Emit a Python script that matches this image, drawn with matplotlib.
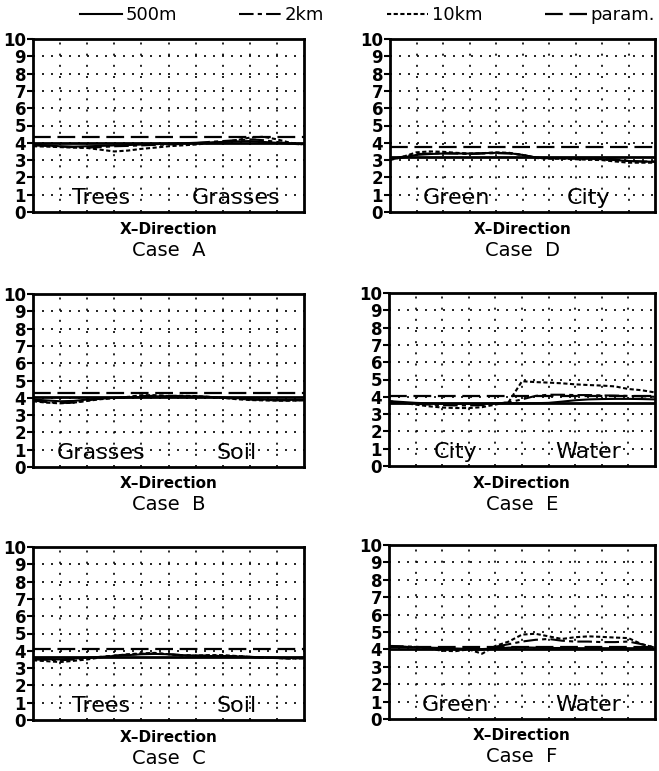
import matplotlib
matplotlib.use("Agg")
import matplotlib.pyplot as plt
from matplotlib.lines import Line2D

# horizontal positions along the x-direction transect
x = [0, 0.5, 1, 1.5, 2, 2.5, 3, 3.5, 4, 4.5, 5,
     5.5, 6, 6.5, 7, 7.5, 8, 8.5, 9, 9.5, 10]

yticks = [0, 1, 2, 3, 4, 5, 6, 7, 8, 9, 10]

# Case A: Trees | Grasses
A_base, A_param = 4.0, 4.35
A_500m = [3.9, 3.85, 3.8, 3.78, 3.8, 3.82, 3.85, 3.87, 3.9, 3.92, 3.95,
          3.97, 4.0, 4.02, 4.05, 4.08, 4.1, 4.05, 4.0, 3.95, 3.92]
A_2km = [3.85, 3.82, 3.78, 3.75, 3.72, 3.75, 3.8, 3.82, 3.85, 3.88, 3.9,
         3.93, 3.98, 4.05, 4.1, 4.15, 4.2, 4.15, 4.05, 3.95, 3.9]
A_10km = [3.8, 3.78, 3.75, 3.72, 3.7, 3.6, 3.5, 3.55, 3.65, 3.72, 3.8,
          3.85, 3.9, 3.98, 4.05, 4.15, 4.3, 4.35, 4.2, 4.0, 3.9]

# Case B: Grasses | Soil
B_base, B_param = 4.05, 4.3
B_500m = [3.9, 3.85, 3.8, 3.82, 3.9, 3.95, 4.0, 4.02, 4.05, 4.08, 4.1,
          4.1, 4.08, 4.05, 4.02, 3.98, 3.92, 3.9, 3.88, 3.88, 3.88]
B_2km = [3.85, 3.75, 3.7, 3.72, 3.85, 3.95, 4.0, 4.05, 4.1, 4.12, 4.12,
         4.1, 4.08, 4.05, 4.0, 3.95, 3.9, 3.88, 3.85, 3.85, 3.85]
B_10km = [3.8, 3.72, 3.68, 3.72, 3.82, 3.92, 3.98, 4.05, 4.15, 4.15, 4.1,
          4.12, 4.1, 4.05, 4.0, 3.92, 3.87, 3.85, 3.83, 3.83, 3.85]

# Case C: Trees | Soil
C_base, C_param = 3.65, 4.08
C_500m = [3.55, 3.52, 3.5, 3.55, 3.6, 3.65, 3.7, 3.75, 3.8, 3.82, 3.8,
          3.75, 3.72, 3.7, 3.7, 3.68, 3.65, 3.62, 3.6, 3.58, 3.6]
C_2km = [3.5, 3.48, 3.45, 3.5, 3.58, 3.65, 3.72, 3.78, 3.82, 3.85, 3.8,
         3.75, 3.72, 3.72, 3.7, 3.68, 3.65, 3.6, 3.58, 3.55, 3.58]
C_10km = [3.45, 3.4, 3.35, 3.42, 3.5, 3.62, 3.72, 3.8, 3.85, 3.88, 3.8,
          3.72, 3.72, 3.75, 3.75, 3.7, 3.65, 3.6, 3.58, 3.55, 3.55]

# Case D: Green | City
D_base, D_param = 3.2, 3.75
D_500m = [3.05, 3.15, 3.3, 3.35, 3.38, 3.38, 3.38, 3.4, 3.42, 3.4, 3.3,
          3.15, 3.1, 3.1, 3.08, 3.08, 3.05, 3.0, 2.95, 2.92, 2.9]
D_2km = [3.05, 3.2, 3.35, 3.38, 3.4, 3.38, 3.35, 3.38, 3.4, 3.38, 3.3,
         3.15, 3.12, 3.12, 3.1, 3.1, 3.08, 3.05, 2.95, 2.92, 2.92]
D_10km = [3.0, 3.2, 3.45, 3.5, 3.48, 3.42, 3.38, 3.4, 3.45, 3.42, 3.3,
          3.12, 3.08, 3.08, 3.05, 3.02, 3.0, 2.92, 2.85, 2.85, 2.85]

# Case E: City | Water
E_base, E_param = 3.65, 4.02
E_500m = [3.75, 3.7, 3.65, 3.62, 3.6, 3.6, 3.6, 3.6, 3.62, 3.62, 3.62,
          3.63, 3.65, 3.72, 3.8, 3.85, 3.87, 3.88, 3.88, 3.87, 3.85]
E_2km = [3.7, 3.65, 3.6, 3.55, 3.52, 3.5, 3.5, 3.52, 3.6, 3.68, 3.85,
         4.05, 4.12, 4.12, 4.1, 4.1, 4.08, 4.07, 4.05, 4.03, 4.0]
E_10km = [3.75, 3.65, 3.55, 3.45, 3.38, 3.35, 3.35, 3.4, 3.55, 3.7, 4.9,
          4.85, 4.82, 4.78, 4.72, 4.68, 4.65, 4.6, 4.45, 4.38, 4.25]

# Case F: Green | Water
F_base, F_param = 4.05, 4.15
F_500m = [4.15, 4.15, 4.12, 4.1, 4.08, 4.05, 4.03, 4.02, 4.05, 4.1, 4.12,
          4.1, 4.08, 4.08, 4.07, 4.07, 4.07, 4.07, 4.07, 4.07, 4.05]
F_2km = [4.2, 4.18, 4.15, 4.1, 4.05, 4.0, 4.0, 3.98, 4.15, 4.3, 4.45,
         4.55, 4.6, 4.5, 4.45, 4.45, 4.42, 4.42, 4.45, 4.3, 4.1]
F_10km = [4.15, 4.15, 4.12, 4.05, 3.92, 3.9, 4.0, 3.75, 4.2, 4.45, 4.85,
          4.9, 4.75, 4.6, 4.7, 4.75, 4.72, 4.68, 4.65, 4.3, 4.1]

cases = ["A", "B", "C", "D", "E", "F"]
surfaces = {"A": ("Trees", "Grasses"), "B": ("Grasses", "Soil"),
            "C": ("Trees", "Soil"), "D": ("Green", "City"),
            "E": ("City", "Water"), "F": ("Green", "Water")}
series = {"A": (A_base, A_param, A_500m, A_2km, A_10km),
          "B": (B_base, B_param, B_500m, B_2km, B_10km),
          "C": (C_base, C_param, C_500m, C_2km, C_10km),
          "D": (D_base, D_param, D_500m, D_2km, D_10km),
          "E": (E_base, E_param, E_500m, E_2km, E_10km),
          "F": (F_base, F_param, F_500m, F_2km, F_10km)}

W, H = 659, 771
fig = plt.figure(figsize=(W / 100, H / 100), dpi=100)

# axes boxes in pixels: left, top, right, bottom
boxes = {"A": (33, 39, 304, 212), "B": (33, 294, 304, 467),
         "C": (33, 547, 304, 720), "D": (390, 39, 655, 212),
         "E": (389, 293, 655, 466), "F": (389, 545, 655, 719)}

style_500m = dict(color="black", lw=1.5, ls="-")
style_2km = dict(color="black", lw=1.5, dashes=(7, 2, 2, 2))
style_10km = dict(color="black", lw=1.5, dashes=(2.0, 1.2))
style_param = dict(color="black", lw=1.6, dashes=(8, 3))

for c in cases:
    l, t, r, b = boxes[c]
    ax = fig.add_axes([l / W, 1 - b / H, (r - l) / W, (b - t) / H])
    base, param, s500, s2, s10 = series[c]

    # dotted grid
    for v in range(1, 10):
        ax.axhline(v, color="black", lw=1.2, dashes=(1.2, 4.2), zorder=1)
        ax.axvline(v, color="black", lw=1.2, dashes=(1.2, 5.5), zorder=1)

    ax.axhline(base, color="black", lw=2.0, zorder=3)
    ax.axhline(param, zorder=3, **style_param)
    ax.plot(x, s500, zorder=4, **style_500m)
    ax.plot(x, s2, zorder=4, **style_2km)
    ax.plot(x, s10, zorder=4, **style_10km)

    ax.set_xlim(0, 10)
    ax.set_ylim(0, 10)
    ax.set_xticks([])
    ax.set_yticks(yticks)
    ax.set_yticklabels([str(v) for v in yticks], fontsize=12,
                       fontweight="bold")
    ax.tick_params(axis="y", direction="out", length=4, width=1.5, pad=1)
    for sp in ax.spines.values():
        sp.set_linewidth(2.0)

    left_s, right_s = surfaces[c]
    ax.text(2.5, 0.45, left_s, ha="center", va="baseline", fontsize=16,
            zorder=5)
    ax.text(7.5, 0.45, right_s, ha="center", va="baseline", fontsize=16,
            zorder=5)

    cx = (l + r) / 2 / W
    fig.text(cx, 1 - (b + 17) / H, "X\u2013Direction", ha="center",
             va="center", fontsize=11, fontweight="bold")
    fig.text(cx, 1 - (b + 38) / H, f"Case  {c}",
             ha="center", va="center", fontsize=14)

handles = [Line2D([], [], **style_500m),
           Line2D([], [], **style_2km),
           Line2D([], [], **style_10km),
           Line2D([], [], **style_param)]
labels = ["500m", "2km", "10km", "param."]
fig.legend(handles, labels, loc="center", ncol=4, frameon=False,
           bbox_to_anchor=(80 / W, 1 - 30 / H, 575 / W, 30 / H),
           mode="expand", fontsize=13, handlelength=2.3, handletextpad=0.2,
           borderaxespad=0, borderpad=0)

fig.savefig("out.png", dpi=100)
